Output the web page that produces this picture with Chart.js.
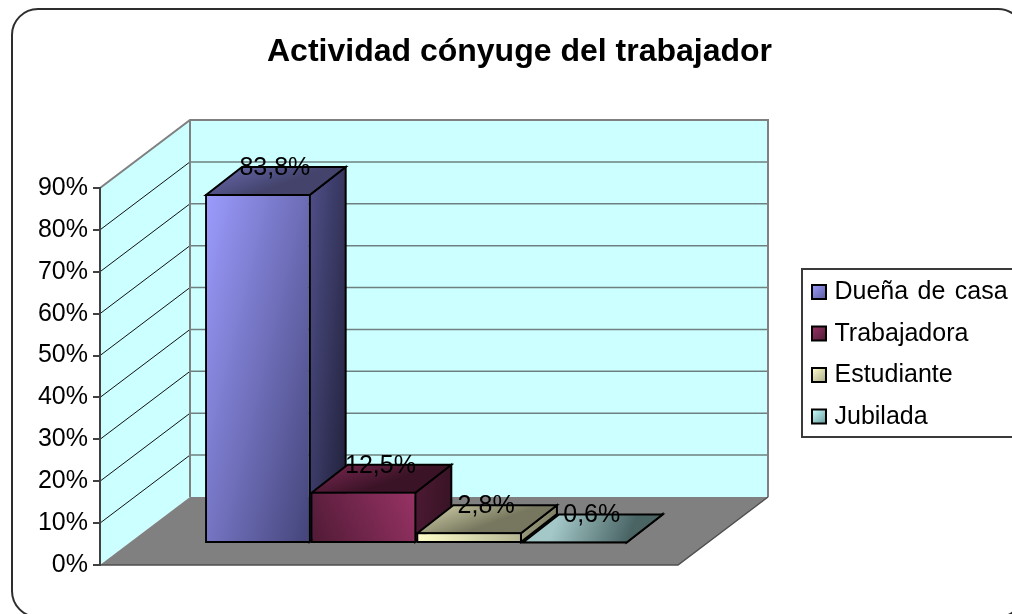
<!DOCTYPE html>
<html lang="es">
<head>
<meta charset="utf-8">
<title>Actividad cónyuge del trabajador</title>
<style>
html,body{margin:0;padding:0;background:#fff;overflow:hidden}
#wrap{width:1012px;height:614px;position:relative}
canvas{display:block}
</style>
<script src="https://cdn.jsdelivr.net/npm/chart.js@4"></script>
</head>
<body>
<div id="wrap"><canvas id="c" width="1012" height="614"></canvas></div>
<script>
const chartTitle = 'Actividad cónyuge del trabajador';
const categories = ['Actividad'];
const seriesNames = ['Dueña de casa', 'Trabajadora', 'Estudiante', 'Jubilada'];
const seriesValues = [83.8, 12.5, 2.8, 0.6];
const dataLabels = ['83,8%', '12,5%', '2,8%', '0,6%'];
const tickLabels = ['0%', '10%', '20%', '30%', '40%', '50%', '60%', '70%', '80%', '90%'];

const FONT = '"Liberation Sans", Arial, sans-serif';
const WALL = {dx: 90, dy: -68};
const FRONT = {dx: 27.3, dy: -21, k: 0.997};
const BAR = {dx: 36, dy: -28};
const CAT_PCT = 0.731;

const shades = [
  {front: ['#9c9cff', '#47477e'], top: ['#60609e', '#43436c'], side: ['#50508a', '#20203a'], swatch: ['#9c9cff', '#5a5a99']},
  {front: ['#993366', '#4f1a34'], top: ['#6b2347', '#3b1327'], side: ['#4d1a33', '#2a0e1c'], swatch: ['#993366', '#4d1a33']},
  {front: ['#ffffcc', '#b4b492'], top: ['#bcbc98', '#77775f'], side: ['#9a9a7b', '#6a6a54'], swatch: ['#ffffcc', '#a8a888']},
  {front: ['#ccffff', '#668080'], top: ['#a4c8c8', '#4a6464'], side: ['#7fa0a0', '#4a6262'], swatch: ['#ccffff', '#669999']}
];

function barBox(chart, i) {
  const a = chart.chartArea, y = chart.scales.y;
  const w = a.width * CAT_PCT / seriesValues.length;
  const x0 = a.left + (a.width - w * seriesValues.length) / 2 + i * w;
  return {x0, x1: x0 + w, top: y.getPixelForValue(seriesValues[i]), base: y.getPixelForValue(0)};
}
function frontGradient(ctx, chart, i) {
  const b = barBox(chart, i), c = shades[i].front;
  let g;
  if (i === 1) g = ctx.createLinearGradient(b.x1, b.top, b.x0, b.base);
  else if (i === 0) g = ctx.createLinearGradient(b.x0, b.top, b.x0 + 172, b.top + 41);
  else g = ctx.createLinearGradient(b.x0, b.top, b.x1, b.base);
  g.addColorStop(0, c[0]); g.addColorStop(1, c[1]);
  return g;
}
function poly(ctx, pts, fill, stroke, lw) {
  ctx.beginPath();
  pts.forEach((p, i) => i ? ctx.lineTo(p[0], p[1]) : ctx.moveTo(p[0], p[1]));
  ctx.closePath();
  if (fill) { ctx.fillStyle = fill; ctx.fill(); }
  if (stroke) { ctx.strokeStyle = stroke; ctx.lineWidth = lw; ctx.lineJoin = 'miter'; ctx.stroke(); }
}

const scene3d = {
  id: 'scene3d',
  afterLayout(chart) {
    const t = chart.titleBlock;
    t.left = 27; t.right = 1012;
  },
  beforeDraw(chart) {
    const ctx = chart.ctx, a = chart.chartArea, y = chart.scales.y;
    ctx.save();
    ctx.fillStyle = '#fff'; ctx.fillRect(0, 0, chart.width, chart.height);
    // outer frame
    ctx.beginPath(); ctx.roundRect(12, 9, 1012, 608, 26);
    ctx.strokeStyle = '#2e2e2e'; ctx.lineWidth = 2; ctx.stroke();
    const y0 = y.getPixelForValue(0), yT = y.getPixelForValue(90);
    const bx = a.left + WALL.dx, brx = a.right + WALL.dx;
    // back wall
    poly(ctx, [[bx, yT + WALL.dy], [brx, yT + WALL.dy], [brx, y0 + WALL.dy], [bx, y0 + WALL.dy]], '#ccffff');
    // side wall
    poly(ctx, [[a.left, yT], [bx, yT + WALL.dy], [bx, y0 + WALL.dy], [a.left, y0]], '#ccffff');
    // gridlines
    y.ticks.forEach(tk => {
      const p = y.getPixelForValue(tk.value);
      if (tk.value > 0 && tk.value < 90) {
        ctx.beginPath(); ctx.moveTo(a.left, p); ctx.lineTo(bx, p + WALL.dy);
        ctx.strokeStyle = '#111'; ctx.lineWidth = 1; ctx.stroke();
      }
      if (tk.value > 0) {
        ctx.beginPath(); ctx.moveTo(bx, p + WALL.dy); ctx.lineTo(brx, p + WALL.dy);
        ctx.strokeStyle = '#6f8080'; ctx.lineWidth = 1.5; ctx.stroke();
      }
    });
    // wall outlines
    ctx.strokeStyle = '#808080'; ctx.lineWidth = 2;
    ctx.beginPath(); ctx.moveTo(a.left, yT); ctx.lineTo(bx, yT + WALL.dy); ctx.lineTo(brx, yT + WALL.dy);
    ctx.lineTo(brx, y0 + WALL.dy); ctx.moveTo(bx, yT + WALL.dy); ctx.lineTo(bx, y0 + WALL.dy); ctx.stroke();
    // floor
    poly(ctx, [[a.left, y0], [a.right, y0], [brx, y0 + WALL.dy], [bx, y0 + WALL.dy]], '#808080');
    ctx.beginPath(); ctx.moveTo(a.left, y0); ctx.lineTo(a.right, y0); ctx.lineTo(brx, y0 + WALL.dy);
    ctx.strokeStyle = '#4f4f4f'; ctx.lineWidth = 1.5; ctx.stroke();
    ctx.restore();
  },
  // bars are painted left to right in afterDatasetsDraw so nearer prisms overlap correctly
  beforeDatasetDraw() {
    return false;
  },
  afterDatasetsDraw(chart) {
    const ctx = chart.ctx;
    seriesValues.forEach((v, i) => {
      const meta = chart.getDatasetMeta(i), el = meta.data[0];
      const base = el.base, x0 = el.x - el.width / 2, x1 = el.x + el.width / 2;
      const top = base + (el.y - base) * FRONT.k;
      const fx0 = x0 + FRONT.dx + 1, fx1 = x1 + FRONT.dx - 1, ft = top + FRONT.dy + 1, fb = base + FRONT.dy - 1;
      const s = shades[i];
      ctx.save();
      let g = ctx.createLinearGradient(fx1, ft + BAR.dy, fx1 + 65, ft + BAR.dy + 5.5);
      g.addColorStop(0, s.side[0]); g.addColorStop(1, s.side[1]);
      poly(ctx, [[fx1, ft], [fx1 + BAR.dx, ft + BAR.dy], [fx1 + BAR.dx, fb + BAR.dy], [fx1, fb]], g, '#000', 2);
      g = i === 3 ? ctx.createLinearGradient(fx0 + BAR.dx, ft + BAR.dy, fx1, ft)
                  : ctx.createLinearGradient(fx0 + BAR.dx, ft + BAR.dy, fx0 + BAR.dx + 10, ft);
      g.addColorStop(0, s.top[0]); g.addColorStop(1, s.top[1]);
      poly(ctx, [[fx0, ft], [fx1, ft], [fx1 + BAR.dx, ft + BAR.dy], [fx0 + BAR.dx, ft + BAR.dy]], g, '#000', 2);
      ctx.translate(FRONT.dx, FRONT.dy + base);
      ctx.scale(1, FRONT.k);
      ctx.translate(0, -base);
      meta.controller.draw();
      ctx.restore();
    });
    ctx.save();
    ctx.fillStyle = '#000';
    ctx.font = '25px ' + FONT;
    ctx.textAlign = 'center'; ctx.textBaseline = 'alphabetic';
    seriesValues.forEach((v, i) => {
      const el = chart.getDatasetMeta(i).data[0];
      const top = el.base + (el.y - el.base) * FRONT.k + FRONT.dy;
      ctx.fillText(dataLabels[i], el.x + FRONT.dx + 17, top - 19);
    });
    // legend
    ctx.fillStyle = '#fff'; ctx.fillRect(802, 269, 230, 168);
    ctx.strokeStyle = '#3a3a3a'; ctx.lineWidth = 2; ctx.strokeRect(802, 269, 230, 168);
    ctx.textAlign = 'left';
    ctx.wordSpacing = '2.5px';
    seriesNames.forEach((name, i) => {
      const ry = 299 + 41.5 * i;
      const g = ctx.createLinearGradient(812, ry - 14, 826, ry + 1);
      g.addColorStop(0, shades[i].swatch[0]); g.addColorStop(1, shades[i].swatch[1]);
      ctx.fillStyle = g; ctx.fillRect(812, ry - 14, 14, 14);
      ctx.strokeStyle = '#000'; ctx.lineWidth = 2; ctx.strokeRect(812, ry - 14, 14, 14);
      ctx.fillStyle = '#000'; ctx.fillText(name, 834.5, ry);
    });
    ctx.restore();
  }
};

new Chart(document.getElementById('c'), {
  type: 'bar',
  data: {
    labels: categories,
    datasets: seriesNames.map((name, i) => ({
      label: name,
      data: [seriesValues[i]],
      backgroundColor: c => c.chart.chartArea ? frontGradient(c.chart.ctx, c.chart, i) : shades[i].front[0],
      borderColor: '#000',
      borderWidth: 2,
      borderSkipped: false,
      categoryPercentage: CAT_PCT,
      barPercentage: 1
    }))
  },
  options: {
    responsive: false,
    animation: false,
    layout: {padding: {left: 0, right: 334, top: 0, bottom: 49}},
    plugins: {
      legend: {display: false},
      tooltip: {enabled: false},
      title: {
        display: true,
        text: chartTitle,
        color: '#000',
        font: {family: FONT, size: 32, weight: 'bold', lineHeight: 1.2},
        padding: {top: 33, bottom: 116.6}
      }
    },
    scales: {
      x: {display: false},
      y: {
        min: 0, max: 90,
        afterFit(s) { s.width = 100; },
        ticks: {
          stepSize: 10,
          color: '#000',
          padding: 5,
          font: {family: FONT, size: 25},
          callback: (v, i) => tickLabels[i]
        },
        grid: {drawOnChartArea: false, color: '#404040', tickLength: 7, lineWidth: 2},
        border: {color: '#404040', width: 2}
      }
    }
  },
  plugins: [scene3d]
});
</script>
</body>
</html>
